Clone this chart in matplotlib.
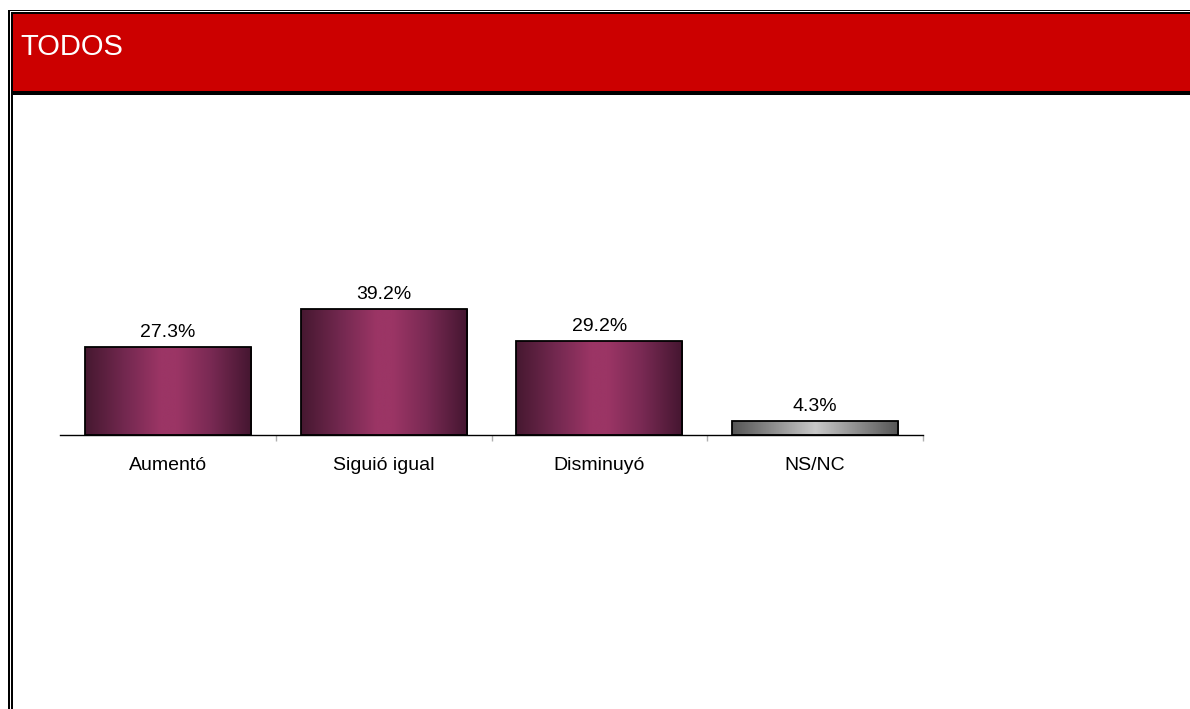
import matplotlib
matplotlib.use("Agg")
import matplotlib.pyplot as plt
from matplotlib.colors import LinearSegmentedColormap
from matplotlib.patches import Rectangle
import numpy as np

# Data
categories = ["Aumentó", "Siguió igual", "Disminuyó", "NS/NC"]
values = [27.3, 39.2, 29.2, 4.3]
value_labels = ["27.3%", "39.2%", "29.2%", "4.3%"]
bar_kinds = ["wine", "wine", "wine", "gray"]
title = "TODOS"

W, H = 1190, 709

plt.rcParams['font.family'] = ['Liberation Sans', 'DejaVu Sans']

# Gradients (horizontal, dark edges, light centre)
wine_cmap = LinearSegmentedColormap.from_list("wine", [
    (0.0, "#461830"), (0.25, "#752951"), (0.45, "#9b3565"), (0.55, "#9b3565"),
    (0.75, "#7a2a54"), (1.0, "#441630")])
gray_cmap = LinearSegmentedColormap.from_list("grayg", [
    (0.0, "#555555"), (0.5, "#c8c8c8"), (1.0, "#555555")])
cmaps = {"wine": wine_cmap, "gray": gray_cmap}

fig = plt.figure(figsize=(W / 100, H / 100), dpi=100)

# Frame axes in pixel coordinates
frame = fig.add_axes([0, 0, 1, 1], zorder=0)
frame.set_xlim(0, W)
frame.set_ylim(H, 0)
frame.axis("off")
frame.add_patch(Rectangle((8, 10), 2, H, color="black", lw=0))
frame.add_patch(Rectangle((8, 10), W, 1.3, color="black", lw=0))
frame.add_patch(Rectangle((11, 12), 2, H, color="black", lw=0))
frame.add_patch(Rectangle((11, 12), W, 1.5, color="black", lw=0))
frame.add_patch(Rectangle((13, 13.5), W, 77, color="#cc0000", lw=0))
frame.add_patch(Rectangle((13, 90.5), W, 4, color="black", lw=0))
frame.text(20, 55, title, color="white", fontsize=21, va="baseline", ha="left")

# Chart axes: x 60..923 px, baseline at y=435 px
left, right = 60, 923
base, top = 435, 120
ax = fig.add_axes([left / W, (H - base) / H, (right - left) / W, (base - top) / H], zorder=1)
ax.patch.set_alpha(0)
x = np.arange(len(categories))
ax.set_xlim(-0.5, len(categories) - 0.5)
ax.set_ylim(0, (base - top) / 3.21)

bars = ax.bar(x, values, width=0.77, facecolor="none", edgecolor="black", linewidth=1.3, zorder=3)
grad = np.linspace(0, 1, 256).reshape(1, -1)
for b, kind in zip(bars, bar_kinds):
    bx, bw, bh = b.get_x(), b.get_width(), b.get_height()
    im = ax.imshow(grad, cmap=cmaps[kind], extent=[bx, bx + bw, 0, bh],
                   aspect="auto", zorder=2, interpolation="bilinear")
    im.set_clip_path(b)

for b, lab in zip(bars, value_labels):
    ax.annotate(lab, (b.get_x() + b.get_width() / 2, b.get_height()),
                xytext=(0, 4.5), textcoords="offset points",
                ha="center", va="bottom", fontsize=14, color="black")

for s in ["top", "right", "left"]:
    ax.spines[s].set_visible(False)
ax.spines["bottom"].set_color("black")
ax.spines["bottom"].set_linewidth(1)
ax.set_yticks([])
ax.set_xticks(x)
ax.set_xticklabels(categories, fontsize=14)
ax.tick_params(axis="x", which="major", length=0, pad=15.5)
ax.set_xticks(np.arange(0.5, len(categories), 1), minor=True)
ax.tick_params(axis="x", which="minor", length=4, color="#b0b0b0", width=1)

fig.savefig("out.png", dpi=100)
